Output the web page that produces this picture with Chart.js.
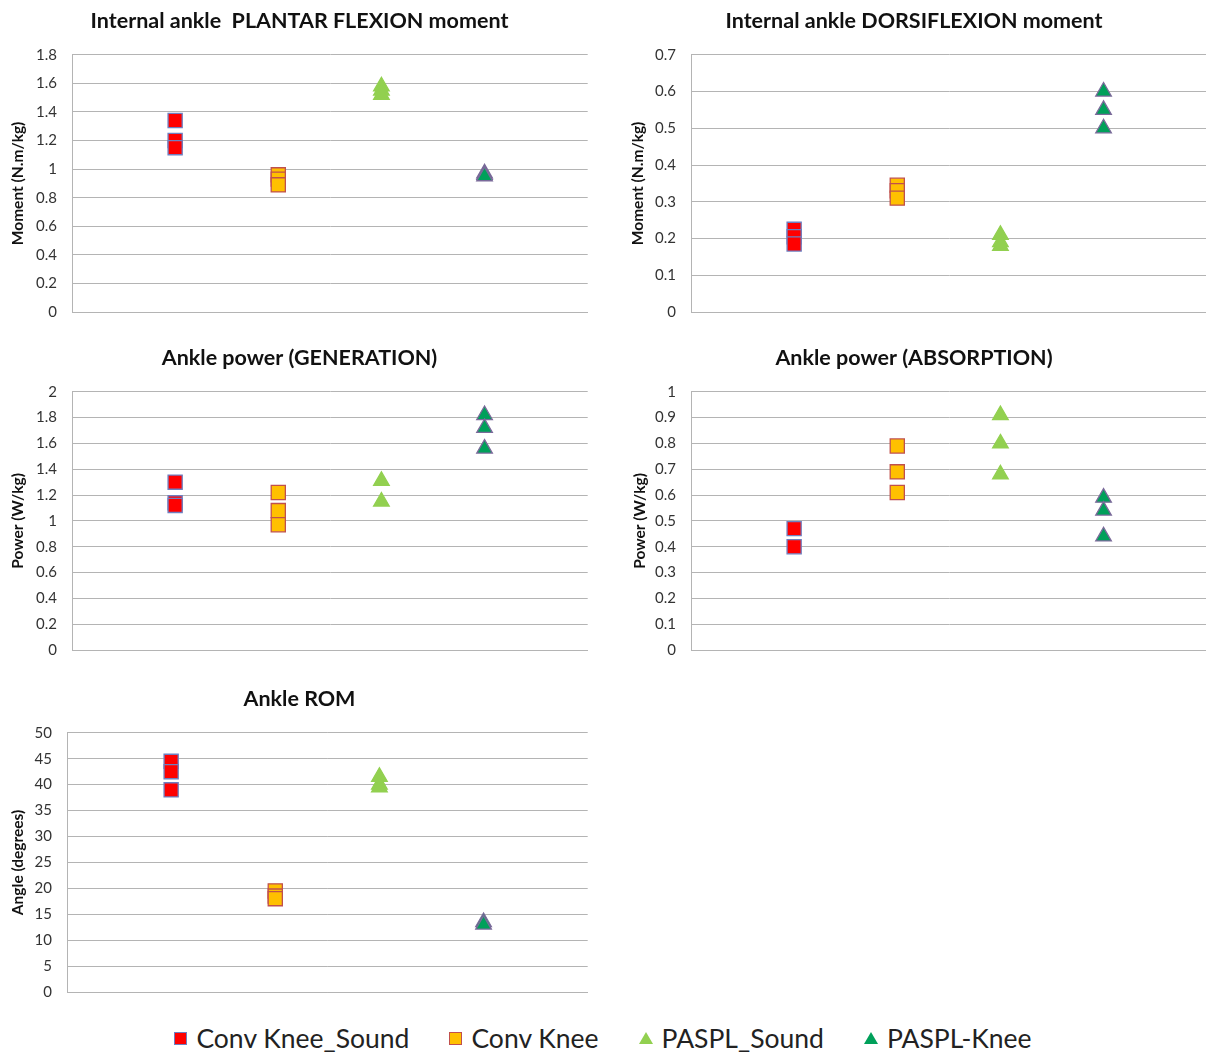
<!DOCTYPE html>
<html lang="en">
<head>
  <meta charset="UTF-8">
  <title>Ankle kinetics</title>
  <script src="https://cdn.jsdelivr.net/npm/chart.js"></script>
  <style>
    body {
      margin: 0;
      background: #ffffff;
      font-family: Lato, "Open Sans", Arial, sans-serif;
      overflow: hidden;
    }

    .page {
      position: relative;
      width: 1206px;
      height: 1055px;
      overflow: hidden;
    }

    .box {
      position: absolute;
    }

    .legend {
      position: absolute;
      left: 0;
      top: 1022px;
      width: 1206px;
      display: flex;
      justify-content: center;
      gap: 40px;
      font-size: 26.5px;
      color: #222;
    }

    .legend span.item {
      display: flex;
      align-items: center;
      gap: 9px;
    }

    .sq {
      width: 11px;
      height: 11px;
      border: 1.5px solid;
    }

    .tri {
      width: 0;
      height: 0;
      border-left: 7px solid transparent;
      border-right: 7px solid transparent;
      border-bottom: 12px solid;
    }
  </style>
</head>
<body>

<div class="page">
  <div class="box" style="left:0;top:0;width:599px;height:336px"><canvas id="c0"></canvas></div>
  <div class="box" style="left:610px;top:0;width:608px;height:336px"><canvas id="c1"></canvas></div>
  <div class="box" style="left:0;top:337px;width:599px;height:337px"><canvas id="c2"></canvas></div>
  <div class="box" style="left:610px;top:337px;width:608px;height:337px"><canvas id="c3"></canvas></div>
  <div class="box" style="left:0;top:678px;width:599px;height:338px"><canvas id="c4"></canvas></div>

  <div class="legend" id="legend"></div>
</div>

<script>
  // groups (legend order)
  const groups = ["Conv Knee_Sound", "Conv Knee", "PASPL_Sound", "PASPL-Knee"];

  // values per group
  const plantarMoment = [[1.34, 1.20, 1.15], [0.96, 0.93, 0.89], [1.58, 1.55, 1.52], [0.97, 0.96, 0.95]];
  const dorsiMoment = [[0.225, 0.205, 0.185], [0.345, 0.33, 0.31], [0.21, 0.19, 0.18], [0.60, 0.55, 0.50]];
  const powerGen = [[1.30, 1.14, 1.12], [1.22, 1.08, 0.97], [1.31, 1.15], [1.82, 1.72, 1.56]];
  const powerAbs = [[0.47, 0.40], [0.79, 0.69, 0.61], [0.91, 0.80, 0.68], [0.59, 0.54, 0.44]];
  const ankleRom = [[44.5, 42.5, 39], [19.5, 18.5, 18], [41.5, 40, 39.5], [13.5, 13]];

  const titles = [
    "Internal ankle  PLANTAR FLEXION moment",
    "Internal ankle DORSIFLEXION moment",
    "Ankle power (GENERATION)",
    "Ankle power (ABSORPTION)",
    "Ankle ROM"
  ];
  const yTitles = ["Moment (N.m/kg)", "Moment (N.m/kg)", "Power (W/kg)", "Power (W/kg)", "Angle (degrees)"];
  const yMax = [1.8, 0.7, 2, 1, 50];
  const yStep = [0.2, 0.1, 0.2, 0.1, 5];

  const panels = [plantarMoment, dorsiMoment, powerGen, powerAbs, ankleRom];

  // look of each group
  const fills = ["#ff0000", "#ffc000", "#92d050", "#00a05a"];
  const borders = ["#6f7fc0", "#c0504d", "#92d050", "#7a6a9a"];
  const shapes = ["rect", "rect", "triangle", "triangle"];
  const axisWidth = [72, 81, 72, 81, 67];
  const yTitlePad = [9, 19, 9, 21, 9];

  const gridColor = "#b4b4b4";

  panels.forEach((vals, p) => {
    const datasets = groups.map((g, i) => ({
      label: g,
      data: vals[i].map(v => ({ x: i + 1, y: v })),
      pointStyle: shapes[i],
      pointRadius: shapes[i] === "rect" ? 10 : 9,
      pointBackgroundColor: fills[i],
      pointBorderColor: borders[i],
      pointBorderWidth: 1.3
    }));

    new Chart(document.getElementById("c" + p), {
      type: "scatter",
      data: { datasets: datasets },
      options: {
        responsive: true,
        maintainAspectRatio: false,
        animation: false,
        layout: { padding: 0 },
        plugins: {
          legend: { display: false },
          tooltip: { enabled: false },
          title: {
            display: true,
            text: titles[p],
            color: "#111",
            font: { family: "Lato", size: 21.5, weight: "bold" },
            padding: { top: 8, bottom: 21 }
          }
        },
        scales: {
          x: {
            type: "linear",
            min: 0,
            max: 5,
            ticks: { display: false },
            grid: { display: false },
            border: { color: gridColor, width: 1 },
            afterFit: s => { s.height = 11; }
          },
          y: {
            min: 0,
            max: yMax[p],
            ticks: {
              stepSize: yStep[p],
              color: "#333",
              padding: 15,
              font: { family: "Lato", size: 15 },
              callback: v => String(Number(v.toFixed(2)))
            },
            grid: { color: gridColor, drawTicks: false },
            border: { color: gridColor, width: 1 },
            title: {
              display: true,
              text: yTitles[p],
              color: "#111",
              padding: { top: yTitlePad[p], bottom: 0 },
              font: { family: "Lato", size: 15.5, weight: "bold" }
            },
            afterFit: s => { s.width = axisWidth[p]; }
          }
        }
      }
    });
  });

  // legend row under the panels
  const legend = document.getElementById("legend");
  groups.forEach((g, i) => {
    const item = document.createElement("span");
    item.className = "item";
    const mark = document.createElement("span");
    if (shapes[i] === "rect") {
      mark.className = "sq";
      mark.style.background = fills[i];
      mark.style.borderColor = borders[i];
    } else {
      mark.className = "tri";
      mark.style.borderBottomColor = fills[i];
    }
    const txt = document.createElement("span");
    txt.textContent = g;
    item.appendChild(mark);
    item.appendChild(txt);
    legend.appendChild(item);
  });
</script>

</body>
</html>
